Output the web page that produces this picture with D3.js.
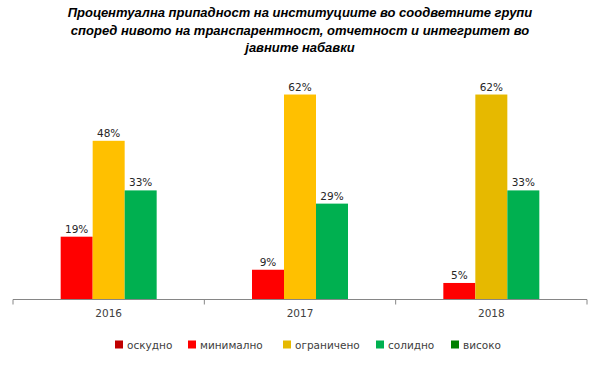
<!DOCTYPE html>
<html><head><meta charset="utf-8">
<script src="https://cdn.jsdelivr.net/npm/d3@7"></script>
<style>body{margin:0;background:#fff}svg{display:block}</style>
</head><body>
<svg id="c" width="600" height="365"></svg>
<script>
const years = ["2016", "2017", "2018"];
const seriesNames = ["оскудно", "минимално", "ограничено", "солидно", "високо"];
const seriesColors = ["#C00000", "#FF0000", "#E6B900", "#00B050", "#008000"];
const oskudno = [0, 0, 0];
const minimalno = [19, 9, 5];
const ogranicheno = [48, 62, 62];
const solidno = [33, 29, 33];
const visoko = [0, 0, 0];
const ogranichenoPointColors = ["#FFC000", "#FFC000", "#E6B900"];
const titleLines = ["Процентуална припадност на институциите во соодветните групи",
  "според нивото на транспарентност, отчетност и интегритет во",
  "јавните набавки"];

const values = [oskudno, minimalno, ogranicheno, solidno, visoko];
const svg = d3.select("#c");
const left = 13, right = 587, base = 299.5;

const x0 = d3.scaleBand().domain(years).range([left, right]).paddingInner(0).paddingOuter(0);
const barW = 32;
const outer = (x0.bandwidth() - 5 * barW) / 2 / barW;
const x1 = d3.scaleBand().domain(seriesNames).range([0, x0.bandwidth()]).paddingInner(0).paddingOuter(outer);
const y = d3.scaleLinear().domain([0, 70]).range([base, base - 70 * 3.306]);

// title
const t = svg.append("text").attr("text-anchor", "middle")
  .attr("font-family", "Liberation Sans, Arial, sans-serif")
  .attr("font-size", 13).attr("font-weight", "bold").attr("font-style", "italic").attr("fill", "#000");
titleLines.forEach((l, i) => t.append("tspan").attr("x", 300).attr("y", 17 + i * 17.5).text(l));

// bars
const g = svg.append("g");
seriesNames.forEach((s, si) => {
  years.forEach((yr, yi) => {
    const v = values[si][yi];
    if (!v) return;
    const bx = x0(yr) + x1(s);
    let col = seriesColors[si];
    if (si === 2) col = ogranichenoPointColors[yi];
    g.append("rect").attr("x", bx).attr("y", y(v)).attr("width", x1.bandwidth())
      .attr("height", base - y(v)).attr("fill", col);
    g.append("text").attr("x", bx + x1.bandwidth() / 2).attr("y", y(v) - 4)
      .attr("text-anchor", "middle").attr("font-family", "DejaVu Sans, Verdana, sans-serif")
      .attr("font-size", 10.5).attr("fill", "#262626").text(v + "%");
  });
});

// axis
const ax = svg.append("g").attr("transform", `translate(0,${base})`)
  .call(d3.axisBottom(x0).tickSize(0).tickPadding(10));
ax.select(".domain").attr("stroke", "#868686").attr("d", `M${left},0H${right}`);
ax.selectAll(".tick text").attr("font-family", "DejaVu Sans, Verdana, sans-serif")
  .attr("font-size", 10.5).attr("fill", "#404040");
const bounds = [left].concat(years.map(yr => x0(yr) + x0.bandwidth()));
ax.selectAll(".sep").data(bounds).enter().append("line")
  .attr("x1", d => d).attr("x2", d => d).attr("y1", 0).attr("y2", 5).attr("stroke", "#868686");

// legend
const legX = [115, 188, 283, 376, 451];
const lg = svg.append("g");
seriesNames.forEach((s, i) => {
  lg.append("rect").attr("x", legX[i]).attr("y", 340.5).attr("width", 8).attr("height", 8).attr("fill", seriesColors[i]);
  lg.append("text").attr("x", legX[i] + 12).attr("y", 349).attr("font-family", "DejaVu Sans, Verdana, sans-serif")
    .attr("font-size", 10.5).attr("fill", "#404040").text(s);
});
</script>
</body></html>
